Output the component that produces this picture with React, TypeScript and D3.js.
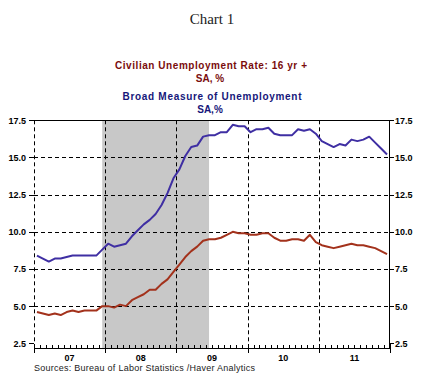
import React from 'react';
import * as d3 from 'd3';

// Monthly data, Jan 2007 – Dec 2011
const yearLabels = ['07', '08', '09', '10', '11'];
const unemploymentRate = [
  4.6, 4.5, 4.4, 4.5, 4.4, 4.6, 4.7, 4.6, 4.7, 4.7, 4.7, 5.0,
  5.0, 4.9, 5.1, 5.0, 5.4, 5.6, 5.8, 6.1, 6.1, 6.5, 6.8, 7.3,
  7.8, 8.3, 8.7, 9.0, 9.4, 9.5, 9.5, 9.6, 9.8, 10.0, 9.9, 9.9,
  9.8, 9.8, 9.9, 9.9, 9.6, 9.4, 9.4, 9.5, 9.5, 9.4, 9.8, 9.3,
  9.1, 9.0, 8.9, 9.0, 9.1, 9.2, 9.1, 9.1, 9.0, 8.9, 8.7, 8.5,
];
const broadMeasure = [
  8.4, 8.2, 8.0, 8.2, 8.2, 8.3, 8.4, 8.4, 8.4, 8.4, 8.4, 8.8,
  9.2, 9.0, 9.1, 9.2, 9.7, 10.1, 10.5, 10.8, 11.2, 11.8, 12.6, 13.6,
  14.2, 15.1, 15.7, 15.8, 16.4, 16.5, 16.5, 16.7, 16.7, 17.2, 17.1, 17.1,
  16.7, 16.9, 16.9, 17.0, 16.6, 16.5, 16.5, 16.5, 16.9, 16.8, 16.9, 16.6,
  16.1, 15.9, 15.7, 15.9, 15.8, 16.2, 16.1, 16.2, 16.4, 16.0, 15.6, 15.2,
];
const yTicks = [2.5, 5.0, 7.5, 10.0, 12.5, 15.0, 17.5];
const recessionMonths = [11, 29]; // Dec 2007 – Jun 2009

const W = 426;
const H = 387;
const L = 34;
const R = 390;
const T = 120.3;
const AXIS_Y = 348;

const RED = '#a3321c';
const BLUE = '#3f2fa3';
const LABEL_FONT = '"Liberation Sans", Arial, sans-serif';

export default function App() {
  const nMonths = unemploymentRate.length;
  const x = d3.scaleLinear().domain([0, nMonths]).range([L, R]);
  const y = d3.scaleLinear().domain([2.5, 17.5]).range([343.3, T]);
  const fmt = d3.format('.1f');

  const line = d3
    .line<number>()
    .x((_, i) => x(i + 0.5))
    .y((d) => y(d));

  const years = d3.range(yearLabels.length + 1).map((k) => k * 12);
  const minorTicks = d3.range(nMonths + 1).filter((m) => m % 12 !== 0);

  return (
    <svg
      width={W}
      height={H}
      style={{ position: 'absolute', left: 0, top: 0, background: '#fff' }}
    >
      {/* Title */}
      <text x={212} y={24} textAnchor="middle" fontFamily='"Liberation Serif", "Times New Roman", serif' fontSize={15} fill="#222">
        Chart 1
      </text>
      <g fontFamily={LABEL_FONT} fontWeight="bold" fontSize={10} textAnchor="middle">
        <text x={211} y={69} fill="#7a0c0c" textLength={192} lengthAdjust="spacing">Civilian Unemployment Rate: 16 yr +</text>
        <text x={210} y={82} fill="#7a0c0c">SA, %</text>
        <text x={212} y={100} fill="#16167a" textLength={179} lengthAdjust="spacing">Broad Measure of Unemployment</text>
        <text x={210} y={113} fill="#16167a">SA,%</text>
      </g>

      {/* Recession shading */}
      <rect
        x={x(recessionMonths[0] + 0.5)}
        y={T}
        width={x(recessionMonths[1] + 0.5) - x(recessionMonths[0] + 0.5)}
        height={AXIS_Y - T}
        fill="#c8c8c8"
      />

      {/* Grid */}
      <g stroke="#000" strokeWidth={1} strokeDasharray="4,3">
        {yTicks.filter((v) => v > 2.5 && v < 17.5).map((v) => (
          <line key={'h' + v} x1={L} x2={R} y1={Math.round(y(v)) + 0.5} y2={Math.round(y(v)) + 0.5} />
        ))}
        {years.slice(0, -1).map((m) => (
          <line key={'v' + m} x1={Math.round(x(m)) + 0.5} x2={Math.round(x(m)) + 0.5} y1={T} y2={AXIS_Y} />
        ))}
      </g>

      {/* Lines */}
      <path d={line(broadMeasure) || ''} fill="none" stroke={BLUE} strokeWidth={2} strokeLinejoin="round" />
      <path d={line(unemploymentRate) || ''} fill="none" stroke={RED} strokeWidth={2} strokeLinejoin="round" />

      {/* Frame */}
      <g stroke="#000" strokeWidth={1}>
        <line x1={L} x2={R} y1={Math.round(T) + 0.5} y2={Math.round(T) + 0.5} />
        <line x1={Math.round(R) - 0.5} x2={Math.round(R) - 0.5} y1={T} y2={AXIS_Y} />
        <line x1={L} x2={R} y1={AXIS_Y + 0.5} y2={AXIS_Y + 0.5} />
        {/* y ticks */}
        {yTicks.map((v) => (
          <g key={'yt' + v}>
            <line x1={L - 5} x2={L} y1={Math.round(y(v)) + 0.5} y2={Math.round(y(v)) + 0.5} />
            <line x1={R} x2={R + 4} y1={Math.round(y(v)) + 0.5} y2={Math.round(y(v)) + 0.5} />
          </g>
        ))}
        {/* x ticks */}
        {years.map((m) => (
          <line key={'xm' + m} x1={Math.round(x(m)) + 0.5} x2={Math.round(x(m)) + 0.5} y1={AXIS_Y - 4} y2={AXIS_Y + 5} />
        ))}
        {minorTicks.map((m) => (
          <line key={'xn' + m} x1={Math.round(x(m)) + 0.5} x2={Math.round(x(m)) + 0.5} y1={AXIS_Y - 3} y2={AXIS_Y} />
        ))}
      </g>

      {/* Tick labels */}
      <g fontFamily={LABEL_FONT} fontWeight="bold" fontSize={9} fill="#000">
        {yTicks.map((v) => (
          <g key={'yl' + v}>
            <text x={26} y={y(v) + 3.5} textAnchor="end">{fmt(v)}</text>
            <text x={395} y={y(v) + 3.5} textAnchor="start">{fmt(v)}</text>
          </g>
        ))}
        {yearLabels.map((lab, k) => (
          <text key={lab} x={x(k * 12 + 6)} y={361} textAnchor="middle">{lab}</text>
        ))}
      </g>

      <text x={34} y={371} fontFamily={LABEL_FONT} fontSize={9} fill="#222" textLength={221} lengthAdjust="spacing">
        Sources:  Bureau of Labor Statistics /Haver Analytics
      </text>
    </svg>
  );
}
